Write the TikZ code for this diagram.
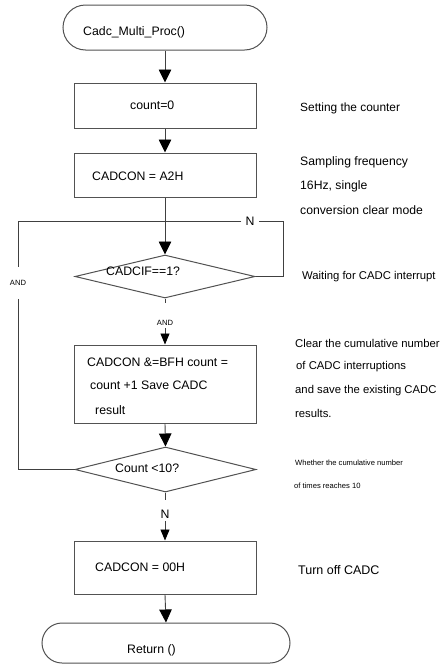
\documentclass[tikz,border=0pt]{standalone}
\usepackage{fontspec}
\setmainfont{Liberation Sans}
\usetikzlibrary{shapes.geometric,shapes.misc,arrows.meta}

\newcommand{\fsz}[1]{\fontsize{#1}{#1}\selectfont}

\tikzset{
  shapeline/.style={draw=black!68, line width=1pt, fill=white},
  procbox/.style={shapeline, rectangle, inner sep=0pt, minimum width=182pt},
  termbox/.style={shapeline, rounded rectangle, inner sep=0pt},
  decbox/.style={shapeline, diamond, inner sep=0pt, minimum width=180pt},
  txt/.style={anchor=west, inner sep=0pt, font=\fsz{12.3}},
  note/.style={anchor=west, inner sep=0pt},
  tiny/.style={inner sep=0pt, font=\fsz{7.6}},
  flow/.style={draw=black!75, line width=0.9pt},
  bigarrow/.style={flow, -{Triangle[length=13pt,width=12.5pt,color=black]}},
  smallarrow/.style={flow, -{Triangle[length=11pt,width=9pt,color=black]}},
}

\begin{document}
\begin{tikzpicture}[x=1pt, y=-1pt]
\useasboundingbox (0,0) rectangle (440,667);

% flow shapes
\node[termbox, minimum width=204pt, minimum height=45pt] (start) at (165,27.5) {};
\node[procbox, minimum height=45pt] (box1) at (165,105.5) {};
\node[procbox, minimum height=44pt] (box2) at (165,175) {};
\node[decbox, minimum height=43pt] (d1) at (165,276.5) {};
\node[procbox, minimum height=78pt] (box3) at (165,384) {};
\node[decbox, minimum width=181pt, minimum height=45pt] (d2) at (165.5,469.5) {};
\node[procbox, minimum height=53pt] (box4) at (165,567.5) {};
\node[termbox, minimum width=248pt, minimum height=40pt] (ret) at (166,643) {};

% texts inside the shapes
\node[txt] (tstart) at (83,32) {Cadc\_Multi\_Proc()};
\node[txt] (tbox1) at (130,105) {count=0};
\node[txt] (tbox2) at (92,176) {CADCON = A2H};
\node[txt] (td1) at (106,271) {CADCIF==1?};
\node[txt] (tbox3a) at (87,362) {CADCON \&=BFH count =};
\node[txt] (tbox3b) at (90,385) {count +1 Save CADC};
\node[txt] (tbox3c) at (95,410) {result};
\node[txt] (td2) at (115,468) {Count <10?};
\node[txt] (tbox4) at (95,567) {CADCON = 00H};
\node[txt] (tret) at (127,650) {Return ()};

% comments on the right
\node[note, font=\fsz{11.9}] (c1) at (300,108) {Setting the counter};
\node[note, font=\fsz{12.2}] (c2a) at (300,162) {Sampling frequency};
\node[note, font=\fsz{12.2}] (c2b) at (300,186) {16Hz, single};
\node[note, font=\fsz{12.2}] (c2c) at (300,210) {conversion clear mode};
\node[note, font=\fsz{11.3}] (c3) at (302,277) {Waiting for CADC interrupt};
\node[note, font=\fsz{11.3}] (c4a) at (295,343) {Clear the cumulative number};
\node[note, font=\fsz{11.3}] (c4b) at (296,367) {of CADC interruptions};
\node[note, font=\fsz{11.3}] (c4c) at (295,391) {and save the existing CADC};
\node[note, font=\fsz{11.3}] (c4d) at (295,413) {results.};
\node[note, font=\fsz{7.6}] (c5a) at (295,463) {Whether the cumulative number};
\node[note, font=\fsz{7.6}] (c5b) at (294,486) {of times reaches 10};
\node[note, font=\fsz{12.5}] (c6) at (298,570) {Turn off CADC};

% branch labels
\node[inner xsep=4pt, inner ysep=0pt, font=\fsz{12.3}] (ntop) at (250,221) {N};
\node[tiny, inner ysep=2.5pt] (andC) at (165,323) {AND};
\node[tiny, inner ysep=13pt] (andL) at (18,283) {AND};
\node[inner ysep=2.5pt, inner xsep=0pt, font=\fsz{12.3}] (nbot) at (165,514) {N};

% loose ends of the short stubs below the decisions
\coordinate (d1stub) at (165,303);
\coordinate (d2stub) at (165.5,500);

% loop corners
\coordinate (rt) at (283,221);
\coordinate (lt) at (18,221);

% main flow
\draw[bigarrow] (start.south) -- (box1.north);
\draw[bigarrow] (box1.south) -- (box2.north);
\draw[bigarrow] (box2.south) -- (d1.north);
\draw[flow] (d1.south) -- (d1stub);
\draw[smallarrow] (andC.south) -- (box3.north);
\draw[bigarrow] (box3.south) -- (d2.north);
\draw[flow] (d2.south) -- (d2stub);
\draw[smallarrow] (nbot.south) -- (box4.north);
\draw[bigarrow] (box4.south) -- (ret.north);

% wait loop and counting loop
\draw[flow] (d1.east) -| (rt) -- (ntop.east);
\draw[flow] (ntop.west) -- (lt) -- (andL.north);
\draw[flow] (andL.south) |- (d2.west);
\end{tikzpicture}
\end{document}
